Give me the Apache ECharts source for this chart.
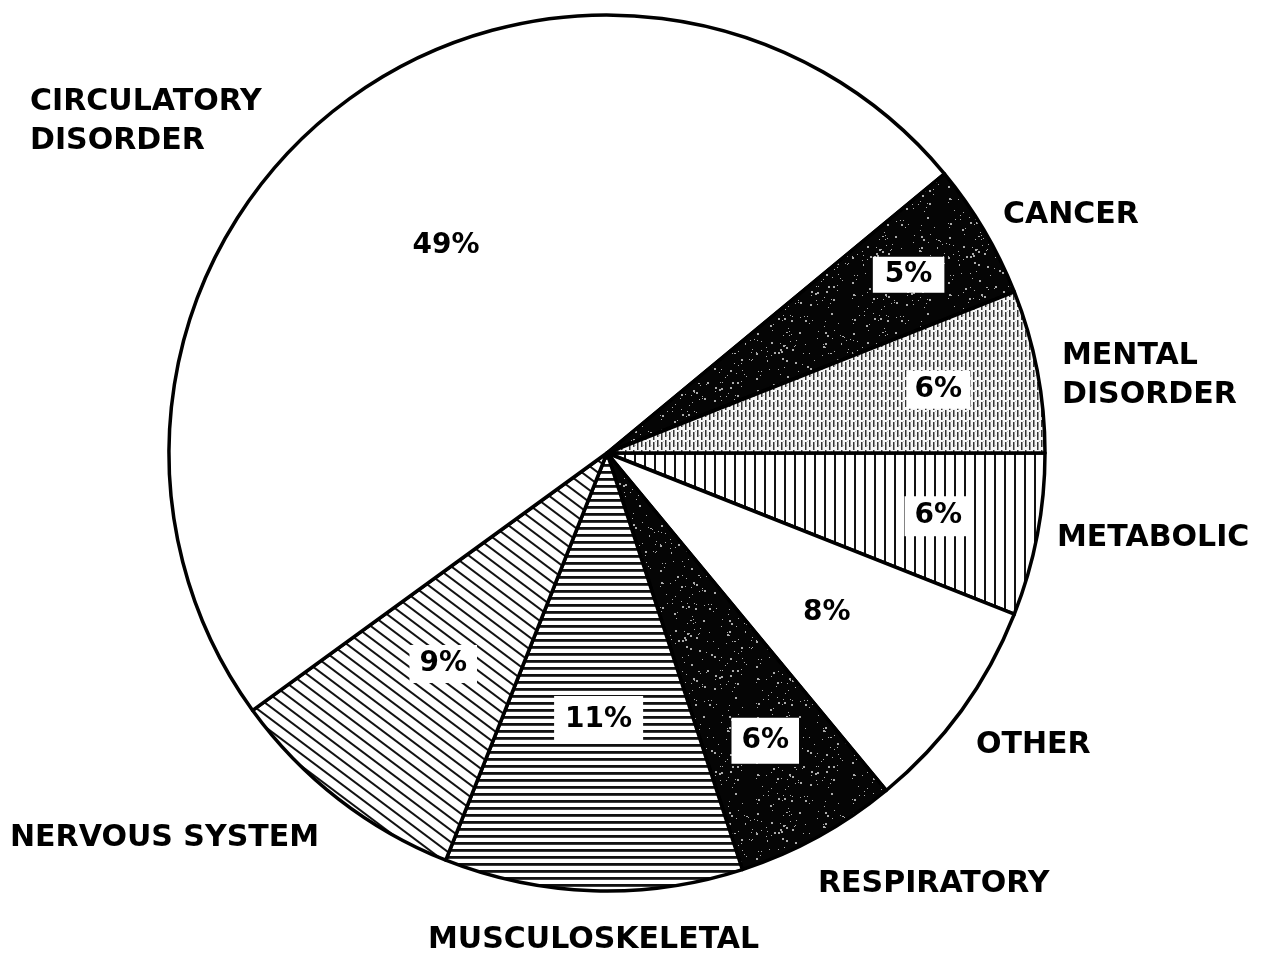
<!DOCTYPE html>
<html>
<head>
<meta charset="utf-8">
<title>Causes</title>
<script src="https://cdn.jsdelivr.net/npm/echarts@6/dist/echarts.min.js"></script>
<style>
  html, body { margin: 0; padding: 0; background: #fff; }
  #main { width: 1263px; height: 956px; }
</style>
</head>
<body>
<div id="main"></div>
<script>
// slices in order, clockwise starting at 3 o'clock
var categories = ['METABOLIC', 'OTHER', 'RESPIRATORY', 'MUSCULOSKELETAL', 'NERVOUS SYSTEM', 'CIRCULATORY\nDISORDER', 'CANCER', 'MENTAL\nDISORDER'];
var percents = [6, 8, 6, 11, 9, 49, 5, 6];

// layout bits (kept apart from the data)
var cx = 607, cy = 453, R = 438;
var pctRadius = [0.77, 0.62, 0.75, 0.61, 0.61, 0.6, 0.8, 0.77];
var pctPadding = [[6, 10], null, [9, 10], [10, 11], [5, 10], null, [4, 12], [5, 8]];
var namePos = [[1057, 538], [976, 745], [818, 884], [428, 940], [10, 838], [30, 122], [1003, 215], [1062, 376]];

// --- fill patterns ---
function makeTile(w, h, bg, draw) {
  var c = document.createElement('canvas');
  c.width = w; c.height = h;
  var ctx = c.getContext('2d');
  ctx.fillStyle = bg;
  ctx.fillRect(0, 0, w, h);
  draw(ctx, w, h);
  return { image: c, repeat: 'repeat' };
}
var seed = 7;
function lcg() { seed = (seed * 1103515245 + 12345) % 2147483648; return seed / 2147483648; }

var speckle = makeTile(96, 96, '#050505', function (ctx, w, h) {
  ctx.fillStyle = '#aaa';
  for (var k = 0; k < 170; k++) {
    var s = lcg() < 0.25 ? 2 : 1;
    ctx.fillRect(Math.floor(lcg() * w), Math.floor(lcg() * h), s, s);
  }
});
var fineVertical = makeTile(8, 10, '#f6f6f6', function (ctx, w, h) {
  ctx.fillStyle = '#333';
  ctx.fillRect(1, 0, 1.5, 7);
  ctx.fillRect(5, 2, 1.5, 8);
  ctx.fillStyle = '#bbb';
  ctx.fillRect(3, 5, 1, 1);
  ctx.fillRect(7, 1, 1, 1);
});
var vertical = makeTile(10, 10, '#fff', function (ctx, w, h) {
  ctx.fillStyle = '#111';
  ctx.fillRect(4, 0, 2, h);
});
var horizontal = makeTile(10, 7, '#fff', function (ctx, w, h) {
  ctx.fillStyle = '#111';
  ctx.fillRect(0, 2, w, 2.8);
});
var diagonal = makeTile(16, 12, '#fff', function (ctx, w, h) {
  ctx.strokeStyle = '#111';
  ctx.lineWidth = 2;
  [-12, 0, 12].forEach(function (c) {
    ctx.beginPath();
    ctx.moveTo(-2, c - 1.5);
    ctx.lineTo(18, c + 13.5);
    ctx.stroke();
  });
});
var fills = [vertical, '#fff', speckle, horizontal, diagonal, '#fff', speckle, fineVertical];

// mid angle of each slice, degrees clockwise from 3 o'clock
var total = percents.reduce(function (a, b) { return a + b; }, 0);
var midAngles = [];
var acc = 0;
percents.forEach(function (v) {
  midAngles.push((acc + v / 2) / total * 360);
  acc += v;
});

var chart = echarts.init(document.getElementById('main'), null, { renderer: 'canvas' });

var pieData = categories.map(function (name, i) {
  var item = { name: name, value: percents[i], itemStyle: { color: fills[i] } };
  if (pctPadding[i]) {
    item.label = { backgroundColor: '#fff', padding: pctPadding[i] };
  }
  return item;
});

chart.setOption({
  backgroundColor: '#fff',
  animation: false,
  series: [{
    type: 'pie',
    center: [cx, cy],
    radius: [0, R],
    startAngle: 0,
    clockwise: true,
    avoidLabelOverlap: false,
    silent: true,
    itemStyle: { borderColor: '#000', borderWidth: 3.5 },
    label: {
      show: true,
      position: 'inside',
      formatter: '{c}%',
      color: '#000',
      fontFamily: 'DejaVu Sans',
      fontWeight: 'bold',
      fontSize: 28
    },
    labelLine: { show: false },
    labelLayout: function (params) {
      var i = params.dataIndex;
      var a = midAngles[i] * Math.PI / 180;
      return {
        x: cx + Math.cos(a) * R * pctRadius[i],
        y: cy + Math.sin(a) * R * pctRadius[i]
      };
    },
    data: pieData
  }],
  graphic: categories.map(function (name, i) {
    return {
      type: 'text',
      x: namePos[i][0],
      y: namePos[i][1],
      silent: true,
      style: {
        text: name,
        fill: '#000',
        fontFamily: 'DejaVu Sans',
        fontWeight: 'bold',
        fontSize: 30,
        lineHeight: 39,
        verticalAlign: 'middle',
        align: 'left'
      }
    };
  })
});
</script>
</body>
</html>
